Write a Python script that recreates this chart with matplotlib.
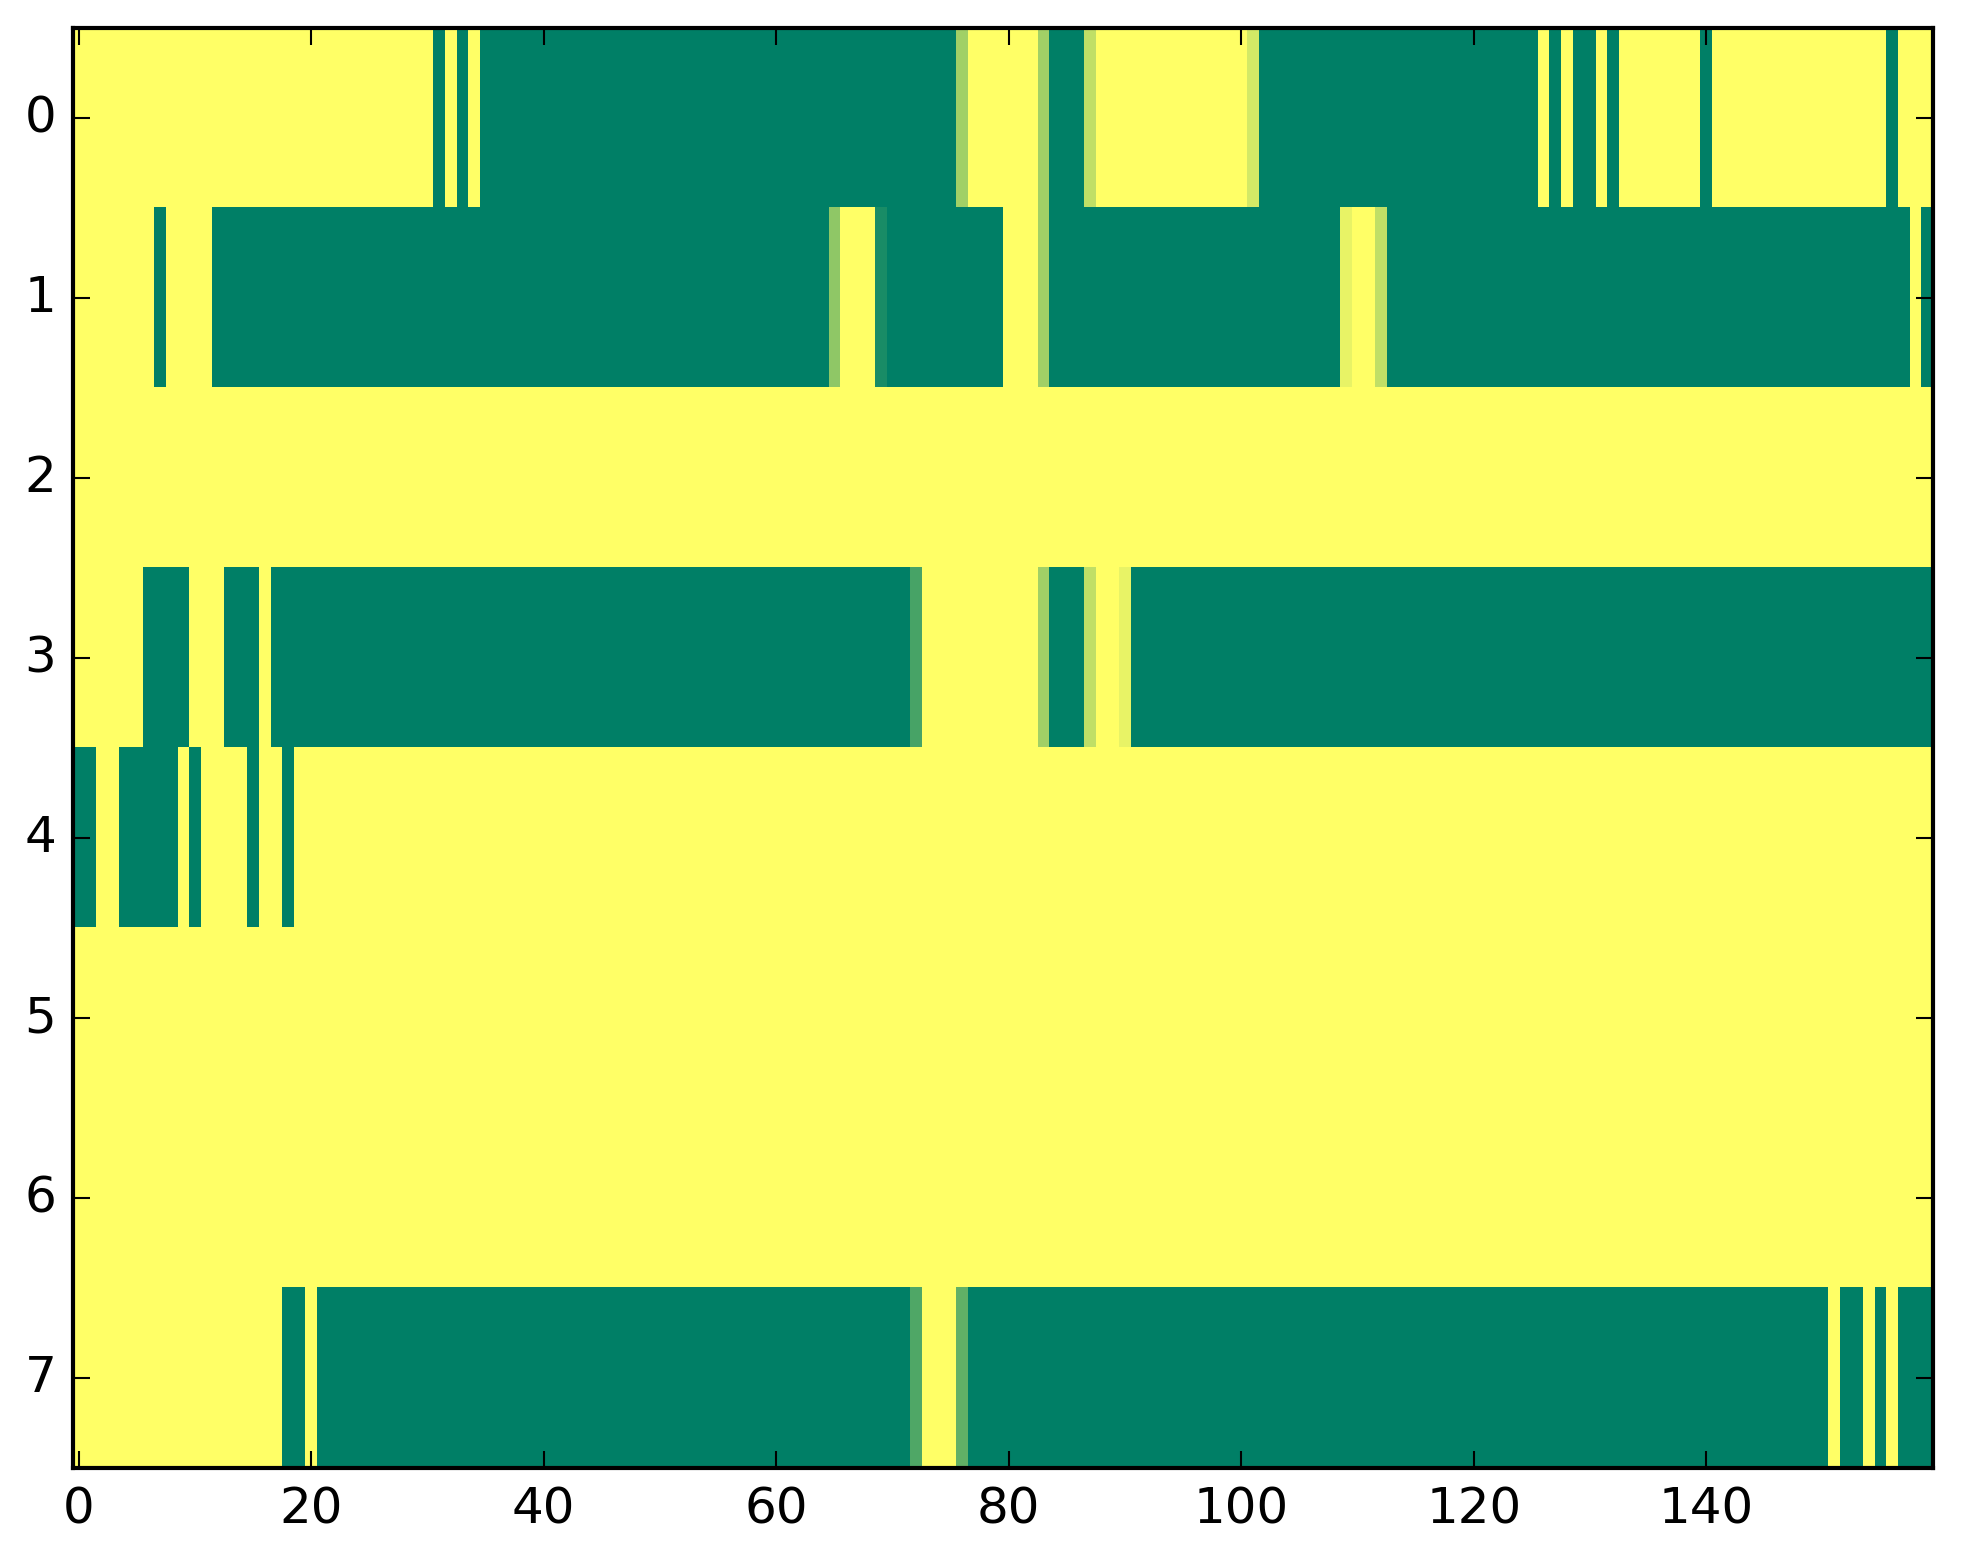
import numpy as np
import matplotlib
matplotlib.use('Agg')
import matplotlib.pyplot as plt

plt.style.use('classic')
plt.rcParams['font.family'] = ['DejaVu Sans']

# 每行的取值，按 (值, 连续列数) 记录：1 = 黄色, 0 = 绿色, 中间值为过渡色
row0 = [(1, 31), (0, 1), (1, 1), (0, 1), (1, 1), (0, 41), (0.63, 1), (1, 6), (0.63, 1),
        (0, 3), (0.75, 1), (1, 13), (0.83, 1), (0, 24), (1, 1), (0, 1), (1, 1), (0, 2),
        (1, 1), (0, 1), (1, 7), (0, 1), (1, 15), (0, 1), (1, 3)]
row1 = [(1, 7), (0, 1), (1, 4), (0, 53), (0.56, 1), (1, 3), (0.1, 1), (0, 10), (1, 3),
        (0.63, 1), (0, 25), (0.91, 1), (1, 2), (0.75, 1), (0, 45), (1, 1), (0, 1)]
row2 = [(1, 160)]
row3 = [(1, 6), (0, 4), (1, 3), (0, 3), (1, 1), (0, 55), (0.28, 1), (1, 10), (0.63, 1),
        (0, 3), (0.75, 1), (1, 2), (0.91, 1), (0, 69)]
row4 = [(0, 2), (1, 2), (0, 5), (1, 1), (0, 1), (1, 4), (0, 1), (1, 2), (0, 1), (1, 141)]
row5 = [(1, 160)]
row6 = [(1, 160)]
row7 = [(1, 18), (0, 2), (1, 1), (0, 51), (0.31, 1), (1, 3), (0.38, 1), (0, 74), (1, 1),
        (0, 2), (1, 1), (0, 1), (1, 1), (0, 3)]

rows = [row0, row1, row2, row3, row4, row5, row6, row7]
xticks = [0, 20, 40, 60, 80, 100, 120, 140]
yticks = [0, 1, 2, 3, 4, 5, 6, 7]

# 展开成矩阵
data = np.array([[v for v, n in r for _ in range(n)] for r in rows], dtype=float)

W, H = 1963, 1564
fig = plt.figure(figsize=(W / 300, H / 300), dpi=300, facecolor='white')
ax = fig.add_axes([73 / W, (H - 28.5 - 1440) / H, 1860 / W, 1440 / H])

ax.imshow(data, cmap='summer', vmin=0, vmax=1, aspect='auto', interpolation='nearest')
ax.set_xticks(xticks)
ax.set_yticks(yticks)
ax.set_xlim(-0.5, data.shape[1] - 0.5)
ax.set_ylim(data.shape[0] - 0.5, -0.5)

fig.savefig('out.png', dpi=300, facecolor='white')
